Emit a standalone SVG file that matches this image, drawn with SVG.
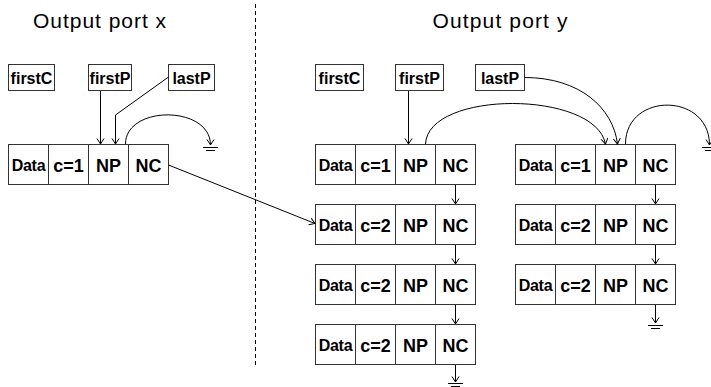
<svg xmlns="http://www.w3.org/2000/svg" width="711" height="387" viewBox="0 0 711 387">
<defs>
<marker id="ah" markerUnits="userSpaceOnUse" markerWidth="10" markerHeight="10" refX="6" refY="4" orient="auto">
<path d="M0.5,0.5 L6,4 L0.5,7.5" fill="none" stroke="#000" stroke-width="1"/>
</marker>
<g id="cellrow">
<rect x="0" y="0" width="160" height="40" fill="#fff" stroke="#333" stroke-width="1"/>
<line x1="40" y1="0" x2="40" y2="40" stroke="#333"/>
<line x1="80" y1="0" x2="80" y2="40" stroke="#333"/>
<line x1="120" y1="0" x2="120" y2="40" stroke="#333"/>
</g>
</defs>
<style>
text{font-family:"Liberation Sans",Arial,sans-serif;fill:#000;}
.title{font-size:21px;text-anchor:middle;}
.lbl{font-size:16px;text-anchor:middle;font-weight:bold;}
.data{font-size:16px;text-anchor:middle;font-weight:bold;letter-spacing:-0.3px;}
.cell{font-size:18px;text-anchor:middle;font-weight:bold;}
.box{fill:#fff;stroke:#333;stroke-width:1;}
.conn{fill:none;stroke:#000;stroke-width:1;}
.arr{marker-end:url(#ah);}
.gnd{stroke:#000;stroke-width:1;}
</style>

<text class="title" x="99.5" y="28" textLength="133" lengthAdjust="spacing">Output port x</text>
<text class="title" x="500" y="28" textLength="135" lengthAdjust="spacing">Output port y</text>
<line x1="255.5" y1="4" x2="255.5" y2="366" stroke="#000" stroke-width="1" stroke-dasharray="4,3"/>

<g id="x-firstC"><rect class="box" x="8.5" y="64.5" width="46" height="26"/><text class="lbl" x="31.5" y="83.5">firstC</text></g>
<g id="x-firstP"><rect class="box" x="88.5" y="64.5" width="43" height="26"/><text class="lbl" x="110" y="83.5">firstP</text></g>
<g id="x-lastP"><rect class="box" x="168.5" y="64.5" width="46" height="26"/><text class="lbl" x="191.5" y="83.5">lastP</text></g>

<g id="y-firstC"><rect class="box" x="315.5" y="64.5" width="48" height="26"/><text class="lbl" x="339.5" y="83.5">firstC</text></g>
<g id="y-firstP"><rect class="box" x="395.5" y="64.5" width="48" height="26"/><text class="lbl" x="419.5" y="83.5">firstP</text></g>
<g id="y-lastP"><rect class="box" x="475.5" y="64.5" width="49" height="26"/><text class="lbl" x="500" y="83.5">lastP</text></g>

<g id="x-node1" transform="translate(8.5,144.5)"><use href="#cellrow"/><text class="data" x="20" y="26">Data</text><text class="cell" x="60" y="27">c=1</text><text class="cell" x="100" y="27">NP</text><text class="cell" x="140" y="27">NC</text></g>

<g id="y-node1" transform="translate(315.5,144.5)"><use href="#cellrow"/><text class="data" x="20" y="26">Data</text><text class="cell" x="60" y="27">c=1</text><text class="cell" x="100" y="27">NP</text><text class="cell" x="140" y="27">NC</text></g>
<g id="y-node2" transform="translate(315.5,204.5)"><use href="#cellrow"/><text class="data" x="20" y="26">Data</text><text class="cell" x="60" y="27">c=2</text><text class="cell" x="100" y="27">NP</text><text class="cell" x="140" y="27">NC</text></g>
<g id="y-node3" transform="translate(315.5,264.5)"><use href="#cellrow"/><text class="data" x="20" y="26">Data</text><text class="cell" x="60" y="27">c=2</text><text class="cell" x="100" y="27">NP</text><text class="cell" x="140" y="27">NC</text></g>
<g id="y-node4" transform="translate(315.5,324.5)"><use href="#cellrow"/><text class="data" x="20" y="26">Data</text><text class="cell" x="60" y="27">c=2</text><text class="cell" x="100" y="27">NP</text><text class="cell" x="140" y="27">NC</text></g>

<g id="y-node5" transform="translate(515.5,144.5)"><use href="#cellrow"/><text class="data" x="20" y="26">Data</text><text class="cell" x="60" y="27">c=1</text><text class="cell" x="100" y="27">NP</text><text class="cell" x="140" y="27">NC</text></g>
<g id="y-node6" transform="translate(515.5,204.5)"><use href="#cellrow"/><text class="data" x="20" y="26">Data</text><text class="cell" x="60" y="27">c=2</text><text class="cell" x="100" y="27">NP</text><text class="cell" x="140" y="27">NC</text></g>
<g id="y-node7" transform="translate(515.5,264.5)"><use href="#cellrow"/><text class="data" x="20" y="26">Data</text><text class="cell" x="60" y="27">c=2</text><text class="cell" x="100" y="27">NP</text><text class="cell" x="140" y="27">NC</text></g>

<g id="connectors">
<path class="conn arr" d="M100.5,91 V144"/>
<path class="conn arr" d="M168.5,77 L115.5,115 V144"/>
<path class="conn arr" d="M125.5,144 C125.5,105 210.5,105 210.5,145"/>
<path class="conn arr" d="M168.5,165 L315,223.5"/>
<path class="conn arr" d="M408.5,91 V144"/>
<path class="conn arr" d="M425.5,144 C428,90 595,90 605.5,144"/>
<path class="conn arr" d="M524.5,77.5 C580,77.5 613,108 617.5,144"/>
<path class="conn arr" d="M625.5,144 C625.5,92 709.5,92 709.5,145"/>
<path class="conn arr" d="M455.5,185 V204"/>
<path class="conn arr" d="M455.5,245 V264"/>
<path class="conn arr" d="M455.5,305 V324"/>
<path class="conn arr" d="M455.5,365 V382"/>
<path class="conn arr" d="M655.5,185 V204"/>
<path class="conn arr" d="M655.5,245 V264"/>
<path class="conn arr" d="M655.5,305 V323"/>
</g>

<g id="grounds">
<line class="gnd" x1="203" y1="147.5" x2="218" y2="147.5"/><line class="gnd" x1="206" y1="150.5" x2="215" y2="150.5"/>
<line class="gnd" x1="702" y1="147.5" x2="717" y2="147.5"/><line class="gnd" x1="705" y1="150.5" x2="714" y2="150.5"/>
<line class="gnd" x1="448" y1="383.5" x2="463" y2="383.5"/><line class="gnd" x1="451" y1="386.5" x2="460" y2="386.5"/>
<line class="gnd" x1="648" y1="325.5" x2="663" y2="325.5"/><line class="gnd" x1="651" y1="328.5" x2="660" y2="328.5"/>
</g>
</svg>
